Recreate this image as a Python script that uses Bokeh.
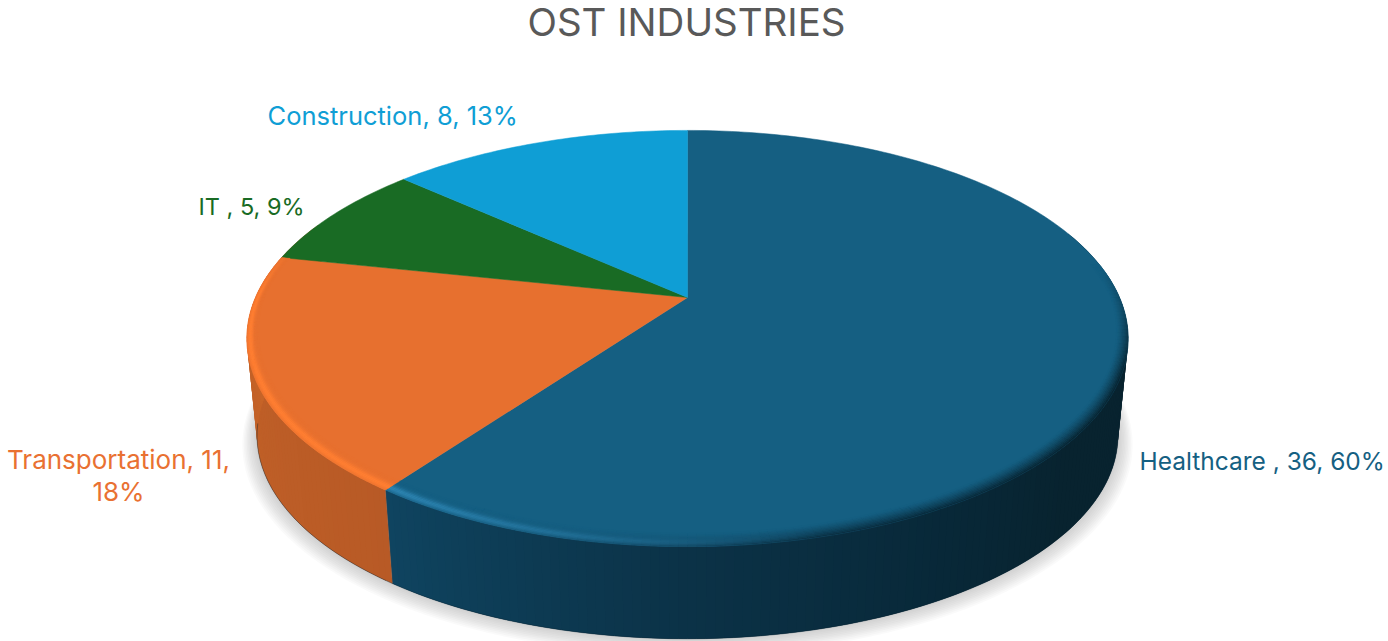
import math
from bokeh.plotting import figure
from bokeh.models import Range1d
from bokeh.core.properties import value
from bokeh.embed import file_html
from bokeh.resources import INLINE

# data
categories = ["Healthcare ", "Transportation", "IT ", "Construction"]
values = [36, 11, 5, 8]
percents = [60, 18, 9, 13]
title_text = "OST INDUSTRIES"

# styles
top_colors = ["#155F82", "#E7702F", "#196B24", "#0F9ED5"]
label_colors = ["#156082", "#E97132", "#196B24", "#0F9ED5"]
light_colors = ["#2F87B5", "#FF7F32", "#196B24", "#0F9ED5"]
label_x = [1139, 118, 198, 267]
label_y = [460, 475, 206, 115]
label_size = ["24.5px", "26px", "23.5px", "25.5px"]
label_align = ["left", "center", "left", "left"]

# perspective model of the pie, in page pixels
CX, CY = 687.0, 297.0
K, KY, C = 432.0, 200.0, 0.197
SB, DY = 0.977, 98.0


def hex2rgb(h):
    return tuple(int(h[i:i + 2], 16) for i in (1, 3, 5))


def mix(a, b, f):
    f = max(0.0, min(1.0, f))
    return tuple(a[i] + (b[i] - a[i]) * f for i in range(3))


def tohex(c):
    return "#%02x%02x%02x" % tuple(int(round(max(0, min(255, x)))) for x in c)


def top_pt(t):
    u, v = math.sin(math.radians(t)), math.cos(math.radians(t))
    d = 1 + C * v
    return CX + K * u / d, CY - KY * v / d


def bottom_pt(t, s=1.0, dx=0.0, dy=0.0):
    x, y = top_pt(t)
    return CX + (x - CX) * SB * s + dx, CY + DY + (y - CY) * SB * s + dy


def clamp(x):
    return max(0.0, min(1.0, x))


total = sum(values)
bounds = [0.0]
for v in values:
    bounds.append(bounds[-1] + 360.0 * v / total)


def slice_of(t):
    for i in range(len(values)):
        if bounds[i] <= t < bounds[i + 1]:
            return i
    return len(values) - 1


def frange(a, b, step):
    n = max(1, int(math.ceil((b - a) / step)))
    return [a + (b - a) * i / n for i in range(n + 1)]


p = figure(width=1388, height=641, x_range=Range1d(0, 1388), y_range=Range1d(641, 0),
           output_backend="svg", toolbar_location=None, min_border=0)
p.axis.visible = False
p.grid.visible = False
p.outline_line_color = None
p.background_fill_color = "white"
p.border_fill_color = "white"

# soft shadow
ts = frange(0, 360, 2)
for k in range(10, 0, -1):
    s = 1 + 0.0034 * k
    pts = [bottom_pt(t, s, 0, 0.8 * k) for t in ts]
    p.patch([q[0] for q in pts], [q[1] for q in pts], fill_color="#808080", fill_alpha=0.04, line_color=None)


def wall_color(t):
    i = slice_of(t)
    if i == 0:
        stops = [(60, "#08232F"), (130, "#08232F"), (150, "#082838"), (180, "#0B3247"), (216, "#0F4460")]
    else:
        stops = [(216, "#B85A26"), (250, "#BF5F27"), (285, "#CC6829"), (360, "#CC6829")]
    for (a, ca), (b, cb) in zip(stops, stops[1:]):
        if a <= t <= b:
            return mix(hex2rgb(ca), hex2rgb(cb), (t - a) / (b - a))
    return hex2rgb(stops[-1][1])


# side wall, drawn as narrow overlapping strips so that no seams show
wt = frange(70, 292, 1.0)
step = wt[1] - wt[0]
xs, ys, cols = [], [], []
for a in wt[:-1]:
    mid = a + step / 2
    b = min(a + 2 * step, bounds[1]) if a < bounds[1] else a + 2 * step
    pa, pb, qa, qb = top_pt(a), top_pt(b), bottom_pt(a), bottom_pt(b)
    xs.append([pa[0], pb[0], qb[0], qa[0]])
    ys.append([pa[1], pb[1], qb[1], qa[1]])
    cols.append(tohex(wall_color(mid)))
p.patches(xs, ys, fill_color=cols, line_color=None)
# dark line along the bottom edge
bpts = [bottom_pt(t) for t in frange(100, 262, 2)]
p.line([q[0] for q in bpts], [q[1] for q in bpts], line_color="#062030", line_alpha=0.4, line_width=1.0)
# seam between the two visible wall colours
a0 = bounds[1]
p.line([top_pt(a0)[0], bottom_pt(a0)[0]], [top_pt(a0)[1], bottom_pt(a0)[1]], line_color="#8a5a40", line_alpha=0.4, line_width=1)

# top face
for i in range(len(values)):
    pts = [top_pt(t) for t in frange(bounds[i], bounds[i + 1], 1.0)]
    x = [CX] + [q[0] for q in pts]
    y = [CY] + [q[1] for q in pts]
    p.patch(x, y, fill_color=top_colors[i], line_color=top_colors[i], line_width=0.5)


# bevel on the front rim: bands that run radially, so they follow the slice edges
def inner_pt(t, f):
    x, y = top_pt(t)
    v = math.cos(math.radians(t))
    r = 0.021 + 0.033 * max(0.0, -v)
    return x + (CX - x) * r * f, y + (CY - y) * r * f


M = 10
bt = frange(80, bounds[2] + 14, 1.0)
bx, by, bc = [], [], []
for a, b in zip(bt, bt[1:]):
    m = (a + b) / 2
    if m >= bounds[2]:
        continue
    i = 0 if m < bounds[1] else 1
    top = hex2rgb(top_colors[i])
    light = hex2rgb(light_colors[i])
    dark = wall_color(m)
    hl = clamp((m - 165) / 55)
    if i == 1:
        hl = 1.0
    fade = clamp((m - 80) / 30) * clamp((bounds[2] + 3 - m) / 14)
    for j in range(M):
        f0, f1 = j / M, (j + 1) / M
        fm = (f0 + f1) / 2
        g = math.exp(-((fm - 0.3) / 0.27) ** 2)
        c = mix(top, dark, (1 - hl) * (1 - fm) ** 1.3 * fade)
        c = mix(c, light, hl * g * fade)
        p0, p1, p2, p3 = inner_pt(a, f0), inner_pt(b, f0), inner_pt(b, f1), inner_pt(a, f1)
        bx.append([p0[0], p1[0], p2[0], p3[0]])
        by.append([p0[1], p1[1], p2[1], p3[1]])
        bc.append(tohex(c))
p.patches(bx, by, fill_color=bc, line_color=bc, line_width=0.5)

# labels
FONT = value("Inter")
for i, cat in enumerate(categories):
    if cat == "Transportation":
        lines = [f"{cat}, {values[i]},", f"{percents[i]}%"]
    else:
        lines = [f"{cat}, {values[i]}, {percents[i]}%"]
    for n, s in enumerate(lines):
        p.text([label_x[i]], [label_y[i] + n * 32 - (16 if len(lines) > 1 else 0)], text=[s], text_color=label_colors[i],
               text_font=FONT, text_font_size=label_size[i], text_align=label_align[i], text_baseline="middle")

p.text([686], [21], text=[title_text], text_color="#595959", text_font=FONT, text_font_size="38.5px",
       text_align="center", text_baseline="middle")

open("out.html", "w").write(file_html(p, INLINE))
